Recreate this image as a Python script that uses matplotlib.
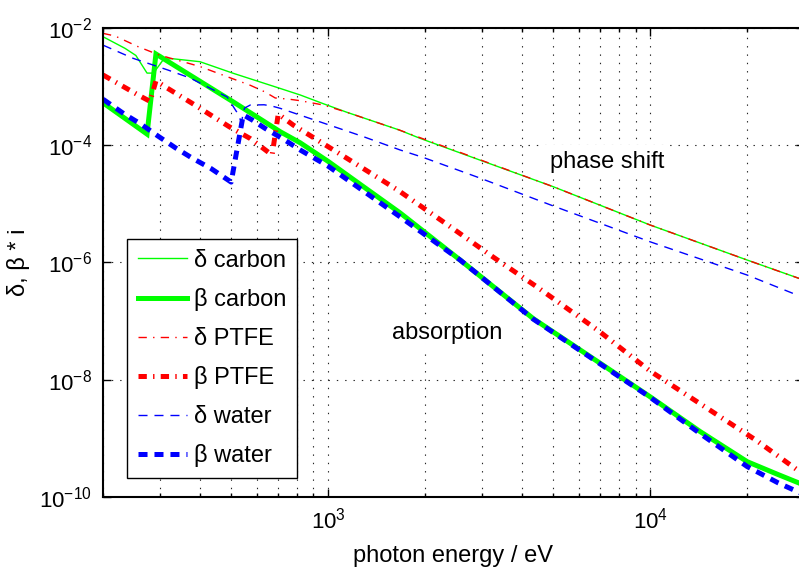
import numpy as np
import matplotlib
matplotlib.use("Agg")
import matplotlib.pyplot as plt
from matplotlib.ticker import NullLocator, NullFormatter, LogLocator

plt.rcParams['font.family'] = ['Liberation Sans', 'DejaVu Sans']
plt.rcParams['mathtext.fontset'] = 'custom'
plt.rcParams['mathtext.rm'] = 'Liberation Sans'
plt.rcParams['mathtext.it'] = 'Liberation Sans:italic'
plt.rcParams['lines.scale_dashes'] = False

# values (photon energy in eV)
e_dc = [200, 234, 253, 274, 287, 308, 327, 400, 507, 710, 819, 967, 1143, 1662, 1930, 5000, 10000, 20000, 30000]
delta_carbon = [7.1e-3, 4.5e-3, 3.4e-3, 1.7e-3, 1.7e-3, 2.9e-3, 3.0e-3, 2.66e-3, 1.69e-3, 9.3e-4, 7.2e-4,
                5.1e-4, 3.65e-4, 1.82e-4, 1.31e-4, 1.96e-5, 4.35e-6, 1.1e-6, 5.0e-7]

e_bc = [200, 274, 292, 507, 710, 819, 1000, 1673, 2570, 4335, 7000, 10000, 14300, 20000, 25000, 30000]
beta_carbon = [5.3e-4, 1.55e-4, 3.6e-3, 5.5e-4, 1.7e-4, 1.1e-4, 5.3e-5, 7.0e-6, 1.1e-6, 1.1e-7, 1.9e-8,
               5.1e-9, 1.3e-9, 4.0e-10, 2.4e-10, 1.6e-10]

e_dp = [200, 218, 257, 299, 400, 574, 637, 685, 757, 819, 967, 1143, 1662, 5000, 10000, 20000, 30000]
delta_ptfe = [8.1e-3, 7.3e-3, 4.8e-3, 3.46e-3, 2.2e-3, 1.05e-3, 8.1e-4, 6.4e-4, 6.1e-4, 5.75e-4, 4.85e-4,
              3.65e-4, 1.82e-4, 1.96e-5, 4.35e-6, 1.1e-6, 5.0e-7]

e_bp = [200, 257, 280, 292, 316, 378, 493, 573, 670, 700, 780, 1143, 1650, 2422, 3185, 4427, 6895, 10000,
        21300, 30000]
beta_ptfe = [1.58e-3, 7.2e-4, 5.6e-4, 1.25e-3, 9.5e-4, 5.2e-4, 2.07e-4, 1.3e-4, 6.8e-5, 3.4e-4, 2.2e-4,
             6.0e-5, 1.7e-5, 3.9e-6, 1.34e-6, 3.9e-7, 6.9e-8, 1.4e-8, 9.3e-10, 2.4e-10]

e_dw = [200, 248, 318, 373, 486, 520, 538, 550, 573, 633, 670, 710, 1287, 1673, 1972, 2963, 5000, 10000,
        20000, 30000]
delta_water = [5.1e-3, 3.04e-3, 1.92e-3, 1.4e-3, 6.65e-4, 3.7e-4, 2.5e-4, 4.3e-4, 4.85e-4, 4.9e-4, 4.65e-4,
               4.26e-4, 1.4e-4, 8.3e-5, 6.2e-5, 2.75e-5, 9.2e-6, 2.25e-6, 6.1e-7, 2.5e-7]

e_bw = [200, 233, 262, 296, 335, 378, 433, 500, 545, 581, 637, 725, 819, 1000, 1673, 2570, 4335, 7000, 10000,
        14300, 20000, 25000, 30000]
beta_water = [6.1e-4, 3.4e-4, 2.3e-4, 1.44e-4, 9.1e-5, 6.05e-5, 4.0e-5, 2.35e-5, 3.3e-4, 2.7e-4, 1.94e-4,
              1.28e-4, 8.3e-5, 4.4e-5, 6.0e-6, 1.1e-6, 1.08e-7, 1.85e-8, 5.0e-9, 1.2e-9, 3.3e-10, 1.73e-10,
              1.1e-10]

labels = ['δ carbon', 'β carbon', 'δ PTFE', 'β PTFE', 'δ water', 'β water']

fig = plt.figure(figsize=(7.99, 5.70), dpi=100)
ax = fig.add_axes([0.1289, 0.1281, 0.8773, 0.8228])

dash = (6.5, 5)
dashdot = (6, 4.5, 1, 4.5)
ax.plot(e_dc, delta_carbon, color=(0, 1, 0), lw=1.0, label=labels[0])
ax.plot(e_bc, beta_carbon, color=(0, 1, 0), lw=3.6, label=labels[1], solid_joinstyle='miter')
ax.plot(e_dp, delta_ptfe, color=(1, 0, 0), lw=1.0, dashes=dashdot, label=labels[2])
ax.plot(e_bp, beta_ptfe, color=(1, 0, 0), lw=3.6, dashes=dashdot, label=labels[3])
ax.plot(e_dw, delta_water, color=(0, 0, 1), lw=1.0, dashes=dash, label=labels[4])
ax.plot(e_bw, beta_water, color=(0, 0, 1), lw=3.6, dashes=dash, label=labels[5])

ax.set_xscale('log')
ax.set_yscale('log')
ax.set_xlim(200, 30000)
ax.set_ylim(1e-10, 1e-2)
ax.set_yticks([1e-10, 1e-8, 1e-6, 1e-4, 1e-2])
ax.yaxis.set_minor_locator(NullLocator())
ax.xaxis.set_minor_locator(LogLocator(subs=np.arange(2, 10)))
ax.xaxis.set_minor_formatter(NullFormatter())

ax.set_axisbelow(True)
grid_style = dict(color='0.15', lw=0.8, linestyle=(0, (1, 5)))
ax.grid(True, which='major', axis='both', **grid_style)
ax.grid(True, which='minor', axis='x', **grid_style)

ax.tick_params(which='both', direction='in', top=True, right=True, labelsize=16, width=1)
ax.tick_params(which='major', length=6)
ax.tick_params(which='minor', length=3)
ax.tick_params(axis='y', pad=8)
ax.tick_params(axis='x', pad=8)
for sp in ax.spines.values():
    sp.set_linewidth(1.5)

ax.set_xlabel('photon energy / eV', fontsize=17, labelpad=8)
ax.set_ylabel('δ, β * i', fontsize=17)
ax.yaxis.set_label_coords(-0.104, 0.5)

ax.text(0.719, 0.714, 'phase shift', transform=ax.transAxes, fontsize=17, ha='center', va='center',
        bbox=dict(facecolor='white', edgecolor='none', pad=4), zorder=1)
ax.text(0.491, 0.350, 'absorption', transform=ax.transAxes, fontsize=17, ha='center', va='center',
        bbox=dict(facecolor='white', edgecolor='none', pad=4), zorder=1)

leg = ax.legend(loc='lower left', bbox_to_anchor=(0.0342, 0.0405), borderaxespad=0, fontsize=17,
                fancybox=False, framealpha=1, edgecolor='black', handlelength=2.1, handletextpad=0.3,
                borderpad=0.45, labelspacing=0.7)
leg.get_frame().set_linewidth(1.0)

fig.savefig('out.png', dpi=100)
